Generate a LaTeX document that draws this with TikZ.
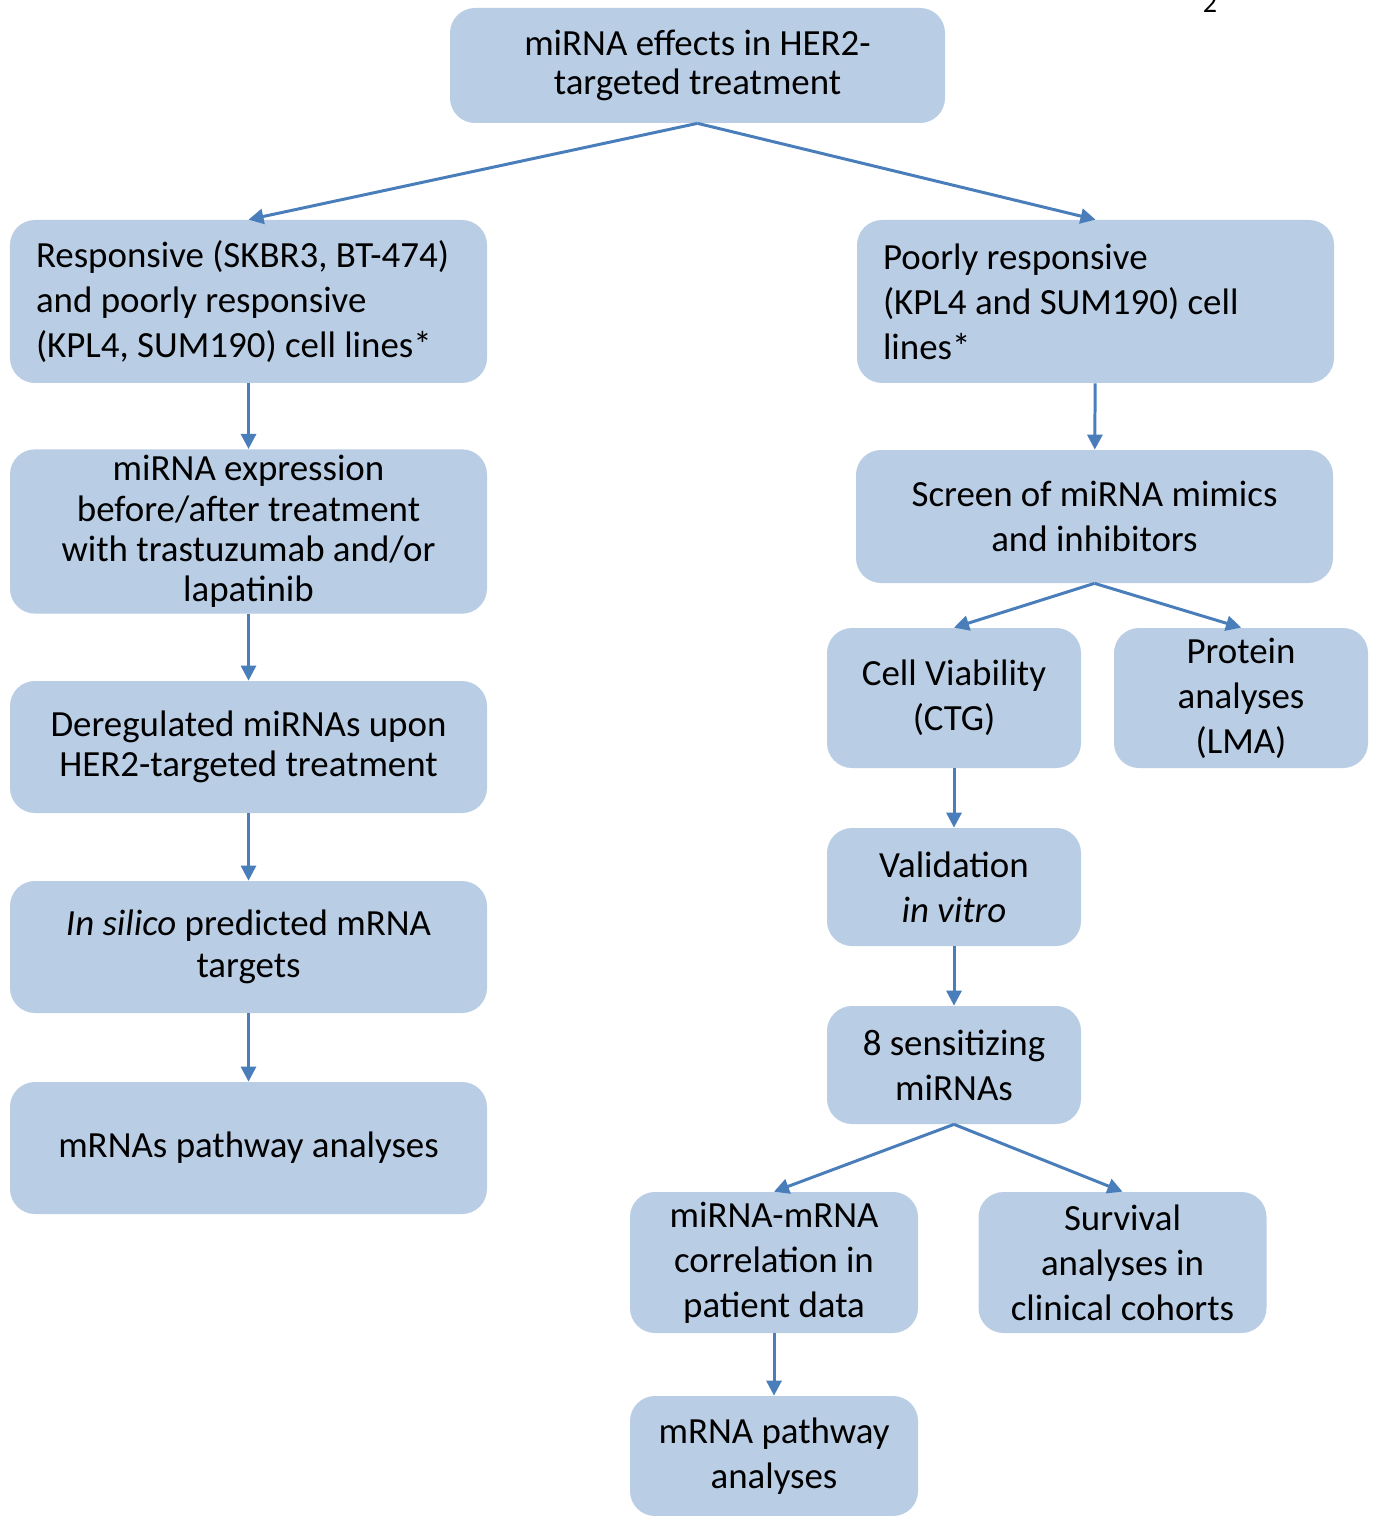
\documentclass[tikz,border=0pt]{standalone}
\usepackage{fontspec}
\setmainfont{Carlito}
\usetikzlibrary{arrows.meta}
\definecolor{boxfill}{HTML}{B9CDE5}
\definecolor{arrowblue}{HTML}{4A7EBB}
\tikzset{
  stepbox/.style={fill=boxfill, rounded corners=0.5cm, align=center, inner xsep=0.2cm,
    font=\fontsize{21}{25.6}\selectfont},
  leftbox/.style={stepbox, align=flush left, inner xsep=0.52cm, text width=8.5cm},
  flow/.style={draw=arrowblue, line width=1.7pt, -{Triangle[length=0.3cm,width=0.3cm]}},
}
\begin{document}
\begin{tikzpicture}
			%%%%% START %%%%%
			\useasboundingbox (0, 0) rectangle (27.52, -30.32);
			
			\node[font=\fontsize{16}{19}\selectfont, anchor=base] (pagenum) at (24.2, -0.26) {2};
			
			\node[stepbox, minimum width=9.9cm, minimum height=2.3cm, font=\fontsize{21}{22.1}\selectfont] (effects) at (13.95, -1.31) {miRNA effects in HER2-\\targeted treatment};
			
			%% left branch
			\node[leftbox, minimum width=9.54cm, minimum height=3.26cm] (celllines) at (4.97, -6.03) {Responsive (SKBR3, BT-474)\\and poorly responsive\\(KPL4, SUM190) cell lines*};
			\node[stepbox, minimum width=9.54cm, minimum height=3.26cm, font=\fontsize{21}{23}\selectfont] (expression) at (4.97, -10.63) {miRNA expression\\before/after treatment\\with trastuzumab and/or\\lapatinib};
			\node[stepbox, minimum width=9.54cm, minimum height=2.64cm, font=\fontsize{21}{22.7}\selectfont] (deregulated) at (4.97, -14.94) {Deregulated miRNAs upon\\HER2-targeted treatment};
			\node[stepbox, minimum width=9.54cm, minimum height=2.64cm, font=\fontsize{21}{23.8}\selectfont] (insilico) at (4.97, -18.94) {\textit{In silico} predicted mRNA\\targets};
			\node[stepbox, minimum width=9.54cm, minimum height=2.64cm] (pathwaysL) at (4.97, -22.96) {mRNAs pathway analyses};
			
			%% right branch
			\node[leftbox, minimum width=9.54cm, minimum height=3.26cm] (poorly) at (21.91, -6.03) {Poorly responsive\\(KPL4 and SUM190) cell\\lines*};
			\node[stepbox, minimum width=9.54cm, minimum height=2.66cm] (screen) at (21.89, -10.33) {Screen of miRNA mimics\\and inhibitors};
			\node[stepbox, minimum width=5.08cm, minimum height=2.8cm] (viability) at (19.08, -13.96) {Cell Viability\\(CTG)};
			\node[stepbox, minimum width=5.08cm, minimum height=2.8cm] (protein) at (24.82, -13.96) {Protein\\analyses\\(LMA)};
			\node[stepbox, minimum width=5.08cm, minimum height=2.36cm] (validation) at (19.08, -17.74) {Validation\\\textit{in vitro}};
			\node[stepbox, minimum width=5.08cm, minimum height=2.36cm] (sensitizing) at (19.08, -21.3) {8 sensitizing\\miRNAs};
			\node[stepbox, minimum width=5.76cm, minimum height=2.82cm] (correlation) at (15.48, -25.25) {miRNA-mRNA\\correlation in\\patient data};
			\node[stepbox, minimum width=5.76cm, minimum height=2.82cm] (survival) at (22.45, -25.25) {Survival\\analyses in\\clinical cohorts};
			\node[stepbox, minimum width=5.76cm, minimum height=2.4cm] (pathwaysR) at (15.48, -29.12) {mRNA pathway\\analyses};
			
			%% arrows
			\draw[flow] (effects.south) -- (celllines.north);
			\draw[flow] (effects.south) -- (poorly.north);
			\draw[flow] (celllines) -- (expression);
			\draw[flow] (expression) -- (deregulated);
			\draw[flow] (deregulated) -- (insilico);
			\draw[flow] (insilico) -- (pathwaysL);
			\draw[flow] (poorly) -- (screen);
			\draw[flow] (screen.south) -- (viability.north);
			\draw[flow] (screen.south) -- (protein.north);
			\draw[flow] (viability) -- (validation);
			\draw[flow] (validation) -- (sensitizing);
			\draw[flow] (sensitizing.south) -- (correlation.north);
			\draw[flow] (sensitizing.south) -- (survival.north);
			\draw[flow] (correlation) -- (pathwaysR);
			
			%%%%% END %%%%%
\end{tikzpicture}
\end{document}
